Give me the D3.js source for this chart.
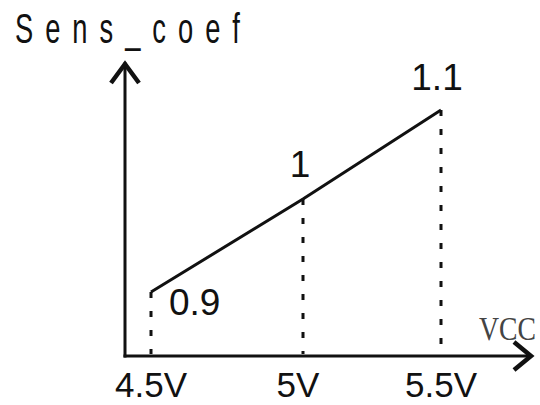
<!DOCTYPE html>
<html>
<head>
<meta charset="utf-8">
<script src="https://cdn.jsdelivr.net/npm/d3@7"></script>
<style>
  html, body { margin: 0; padding: 0; background: #fff; }
  svg { display: block; }
</style>
</head>
<body>
<div id="chart"></div>
<script>
// data
const vcc = [4.5, 5, 5.5];
const coef = [0.9, 1, 1.1];
const xTickLabels = ["4.5V", "5V", "5.5V"];
const pointLabels = ["0.9", "1", "1.1"];
const yTitle = "Sens_coef";
const xTitle = "VCC";

function chart(container) {
  const width = 540;
  const height = 405;
  const origin = { x: 125, y: 356 };

  // the drawing is hand made, so the scales are piecewise
  const xScale = d3.scaleLinear().domain(vcc).range([151, 303, 441]);
  const yScale = d3.scaleLinear().domain(coef).range([292, 199, 110]);

  const svg = container.append("svg")
    .attr("width", width)
    .attr("height", height);

  const data = vcc.map((v, i) => ({ v, c: coef[i], label: pointLabels[i], tick: xTickLabels[i] }));

  // dotted drop lines
  svg.append("g")
    .selectAll("line")
    .data(data)
    .join("line")
    .attr("x1", d => xScale(d.v))
    .attr("x2", d => xScale(d.v))
    .attr("y1", d => yScale(d.c))
    .attr("y2", origin.y - 2)
    .attr("stroke", "#111")
    .attr("stroke-width", 3)
    .attr("stroke-dasharray", "6,13");

  // axes with arrow heads
  const axes = svg.append("g")
    .attr("fill", "none")
    .attr("stroke", "#111")
    .attr("stroke-linecap", "square");
  axes.append("path")
    .attr("d", `M${origin.x},${origin.y}V64`)
    .attr("stroke-width", 3);
  axes.append("path")
    .attr("d", `M${origin.x},${origin.y}H530`)
    .attr("stroke-width", 3);
  axes.append("path")
    .attr("d", `M111,83L${origin.x},64L139,83`)
    .attr("stroke-width", 4.5)
    .attr("stroke-linecap", "butt");
  axes.append("path")
    .attr("d", `M514,342L531,356L514,370`)
    .attr("stroke-width", 4.5)
    .attr("stroke-linecap", "butt");

  // the line
  const line = d3.line()
    .x(d => xScale(d.v))
    .y(d => yScale(d.c));
  svg.append("path")
    .datum(data)
    .attr("d", line)
    .attr("fill", "none")
    .attr("stroke", "#111")
    .attr("stroke-width", 3);

  // value labels
  const offsets = [[18, 23, "start"], [-3, -22, "middle"], [-4, -20, "middle"]];
  svg.append("g")
    .selectAll("text")
    .data(data)
    .join("text")
    .attr("x", (d, i) => xScale(d.v) + offsets[i][0])
    .attr("y", (d, i) => yScale(d.c) + offsets[i][1])
    .attr("text-anchor", (d, i) => offsets[i][2])
    .attr("font-family", "Liberation Sans, Arial, sans-serif")
    .attr("font-size", 37)
    .attr("fill", "#111")
    .text(d => d.label);

  // x tick labels
  svg.append("g")
    .selectAll("text")
    .data(data)
    .join("text")
    .attr("x", d => xScale(d.v) + (d.v === 5 ? -5 : 0))
    .attr("y", 397)
    .attr("text-anchor", "middle")
    .attr("font-family", "Liberation Sans, Arial, sans-serif")
    .attr("font-size", 35)
    .attr("fill", "#111")
    .text(d => d.tick);

  // y title: tall, narrow glyphs with wide spacing
  svg.append("g")
    .attr("transform", "translate(15,43) scale(0.65,1)")
    .append("text")
    .attr("x", 0)
    .attr("y", 0)
    .attr("font-family", "Liberation Sans, Arial, sans-serif")
    .attr("font-size", 42)
    .attr("textLength", 346)
    .attr("lengthAdjust", "spacing")
    .attr("fill", "#111")
    .text(yTitle);

  // x title, condensed serif
  svg.append("g")
    .attr("transform", "translate(479,340) scale(0.84,1)")
    .append("text")
    .attr("x", 0)
    .attr("y", 0)
    .attr("font-family", "Liberation Serif, Times New Roman, serif")
    .attr("font-size", 33)
    .attr("fill", "#444")
    .text(xTitle);
}

chart(d3.select("#chart"));
</script>
</body>
</html>
